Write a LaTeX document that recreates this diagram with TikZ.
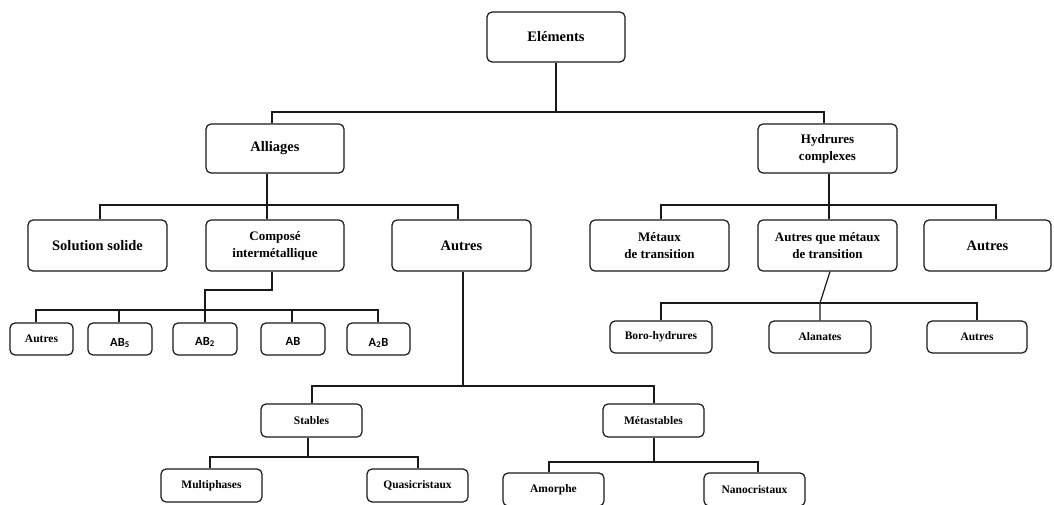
\documentclass[tikz,border=0pt]{standalone}
\usepackage{fontspec}
\setmainfont{Liberation Serif}
\newfontfamily\sansf{Carlito}
\begin{document}
\begin{tikzpicture}[x=1pt,y=-1pt,
  box/.style={draw=black!90, line width=1.2pt, rounded corners=5pt, inner sep=0pt, align=center},
  bigt/.style={font=\fontsize{14.5}{17}\selectfont\bfseries},
  twot/.style={font=\fontsize{13}{17}\selectfont\bfseries},
  smallt/.style={font=\fontsize{11.5}{14}\selectfont\bfseries},
  sanst/.style={font=\fontsize{12.5}{14}\selectfont\sansf\bfseries},
  lnk/.style={draw=black!90, line width=1.2pt}]
\useasboundingbox (0,0) rectangle (1054,505);
\clip (0,0) rectangle (1054,505);
% bus levels
\coordinate (y1) at (0,112);
\coordinate (y2) at (0,205);
\coordinate (y3a) at (0,290);
\coordinate (y3) at (0,310);
\coordinate (y3h) at (0,303);
\coordinate (y4) at (0,386);
\coordinate (y5a) at (0,457);
\coordinate (y5b) at (0,462);
% nodes
\node[box,bigt,minimum width=138,minimum height=50] (el) at (556,37) {Eléments};
\node[box,bigt,minimum width=138,minimum height=49] (al) at (275,148.5) {Alliages};
\node[box,twot,minimum width=139,minimum height=49] (hy) at (827.5,148.5) {Hydrures\\complexes};
\node[box,bigt,minimum width=139,minimum height=51] (ss) at (97.5,245.5) {Solution solide};
\node[box,twot,minimum width=138,minimum height=51] (co) at (275,245.5) {Composé\\intermétallique};
\node[box,bigt,minimum width=139,minimum height=51] (au1) at (461.5,245.5) {Autres};
\node[box,twot,minimum width=139,minimum height=51] (mt) at (659.5,245.5) {Métaux\\de transition};
\node[box,twot,minimum width=139,minimum height=51] (aq) at (827.5,245.5) {Autres que métaux\\de transition};
\node[box,bigt,minimum width=127,minimum height=51] (au2) at (987.5,245.5) {Autres};
% intermetallic children
\node[box,smallt,minimum width=63,minimum height=32] (a3) at (41.5,339) {Autres};
\node[box,minimum width=64,minimum height=32] (ab5) at (120,339) {};
\node[box,minimum width=64,minimum height=32] (ab2) at (205,339) {};
\node[box,minimum width=64,minimum height=32] (ab) at (293,339) {};
\node[box,minimum width=63,minimum height=32] (a2b) at (378.5,339) {};
\node[sanst,inner sep=0pt] (ab5t) at ([yshift=-4]ab5.center) {AB\textsubscript{5}};
\node[sanst,inner sep=0pt] (ab2t) at ([yshift=-3]ab2.center) {AB\textsubscript{2}};
\node[sanst,inner sep=0pt] (abt) at ([yshift=-2]ab.center) {AB};
\node[sanst,inner sep=0pt] (a2bt) at ([yshift=-4]a2b.center) {A\textsubscript{2}B};
% complex hydrides children
\node[box,smallt,minimum width=102,minimum height=32] (bh) at (661,337) {Boro-hydrures};
\node[box,smallt,minimum width=102,minimum height=32] (alz) at (820,337) {Alanates};
\node[box,smallt,minimum width=100,minimum height=32] (au3) at (977,337) {Autres};
% others children
\node[box,smallt,minimum width=101,minimum height=33] (st) at (311.5,420.5) {Stables};
\node[box,smallt,minimum width=101,minimum height=33] (me) at (653.5,420.5) {Métastables};
\node[box,smallt,minimum width=101,minimum height=33] (mp) at (211.5,485.5) {Multiphases};
\node[box,smallt,minimum width=101,minimum height=33] (qc) at (417.5,485.5) {Quasicristaux};
\node[box,smallt,minimum width=101,minimum height=33] (am) at (553.5,489.5) {Amorphe};
\node[box,smallt,minimum width=101,minimum height=33] (nc) at (754.5,489.5) {Nanocristaux};
% connectors: Elements
\draw[lnk] (el.south) -- (el.south |- y1);
\draw[lnk] ([xshift=-3]al.north) |- (el.south |- y1) -| ([xshift=-3.5]hy.north);
% Alliages
\draw[lnk] ([xshift=-8]al.south) -- ([xshift=-8]co.north);
\draw[lnk] ([xshift=2.5]ss.north) |- ([xshift=-3.5]au1.north |- y2) -- ([xshift=-3.5]au1.north);
% Hydrures
\draw[lnk] ([xshift=1.5]hy.south) -- ([xshift=1.5]aq.north);
\draw[lnk] ([xshift=1.5]mt.north) |- ([xshift=8.5]au2.north |- y2) -- ([xshift=8.5]au2.north);
% Compose
\draw[lnk] ([xshift=-3]co.south) |- (ab2.north |- y3a) -- (ab2.north);
\draw[lnk] ([xshift=-5.5]a3.north) |- ([xshift=-0.5]a2b.north |- y3) -- ([xshift=-0.5]a2b.north);
\draw[lnk] ([xshift=-1]ab5.north) -- ([xshift=-1]ab5.north |- y3);
\draw[lnk] ([xshift=-1]ab.north) -- ([xshift=-1]ab.north |- y3);
% Autres que metaux
\draw[lnk] ([xshift=2.5]aq.south) -- (alz.north |- y3h) -- (alz.north);
\draw[lnk] (bh.north) |- (au3.north |- y3h) -- (au3.north);
% Autres (alliages)
\draw[lnk] ([xshift=1.5]au1.south) -- ([xshift=1.5]au1.south |- y4);
\draw[lnk] ([xshift=0.5]st.north) |- ([xshift=0.5]me.north |- y4) -- ([xshift=0.5]me.north);
% Stables
\draw[lnk] ([xshift=-3.5]st.south) -- ([xshift=-3.5]st.south |- y5a);
\draw[lnk] ([xshift=-1.5]mp.north) |- ([xshift=0.5]qc.north |- y5a) -- ([xshift=0.5]qc.north);
% Metastables
\draw[lnk] ([xshift=0.5]me.south) -- ([xshift=0.5]me.south |- y5b);
\draw[lnk] ([xshift=-4.5]am.north) |- ([xshift=3.5]nc.north |- y5b) -- ([xshift=3.5]nc.north);
\end{tikzpicture}
\end{document}
